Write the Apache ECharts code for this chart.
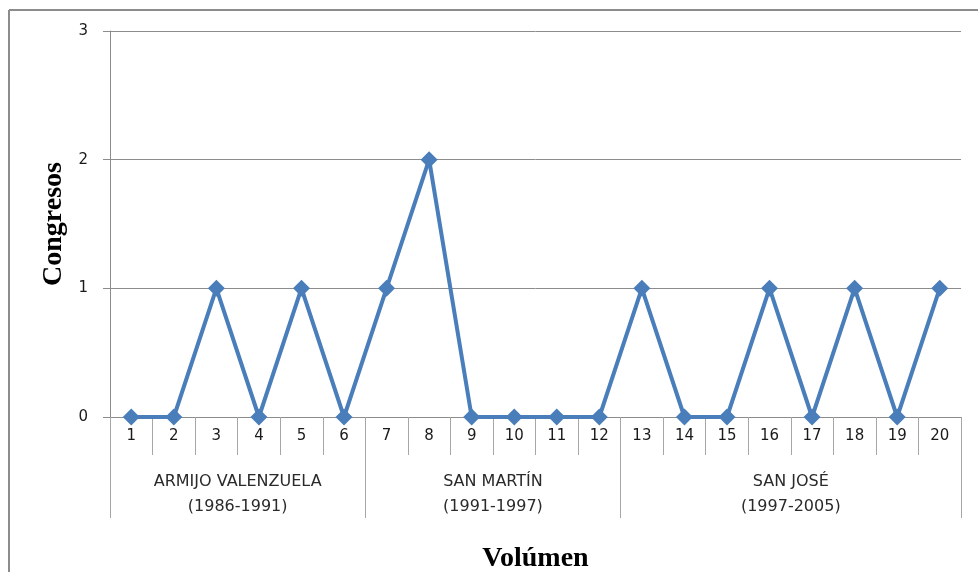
<html lang="es">
<head>
<meta charset="utf-8">
<title>Congresos por volumen</title>
<script src="https://cdn.jsdelivr.net/npm/echarts@6.0.0/dist/echarts.min.js"></script>
<style>
  html, body { margin: 0; padding: 0; background: #fff; }
  #chart { width: 978px; height: 572px; }
</style>
</head>
<body>
<div id="chart"></div>
<script>
var volumes = ['1','2','3','4','5','6','7','8','9','10','11','12','13','14','15','16','17','18','19','20'];
var congresos = [0,0,1,0,1,0,1,2,0,0,0,0,1,0,0,1,0,1,0,1];
var groupNames = ['ARMIJO VALENZUELA\n(1986-1991)', 'SAN MARTÍN\n(1991-1997)', 'SAN JOSÉ\n(1997-2005)'];
var groupBounds = [0, 6, 12, 20];
var yTicks = [0, 1, 2, 3];

var groupCenters = [];
for (var i = 0; i < groupNames.length; i++) {
  groupCenters.push((groupBounds[i] + groupBounds[i + 1]) / 2);
}

var chart = echarts.init(document.getElementById('chart'));
var lineColor = '#8c8c8c';
var labelFont = 'DejaVu Sans';
var option = {
  animation: false,
  grid: { left: 110, right: 17, top: 31, bottom: 155, outerBoundsMode: 'none', containLabel: false },
  graphic: [
    { type: 'line', shape: { x1: 9, y1: 10, x2: 978, y2: 10 }, style: { stroke: lineColor, lineWidth: 2 } },
    { type: 'line', shape: { x1: 9, y1: 10, x2: 9, y2: 572 }, style: { stroke: lineColor, lineWidth: 2 } }
  ],
  xAxis: [
    {
      type: 'category',
      data: volumes,
      boundaryGap: true,
      axisLine: { lineStyle: { color: lineColor } },
      axisTick: { show: true, interval: 0, length: 38, lineStyle: { color: '#a6a6a6' } },
      axisLabel: { interval: 0, margin: 12, fontFamily: labelFont, fontSize: 15, color: '#1a1a1a' }
    },
    {
      type: 'value',
      min: 0,
      max: 20,
      position: 'bottom',
      axisLine: { show: false },
      splitLine: { show: false },
      axisTick: { show: true, customValues: groupBounds, length: 101, lineStyle: { color: '#a6a6a6' } },
      axisLabel: {
        customValues: groupCenters,
        margin: 52,
        fontFamily: labelFont,
        fontSize: 16,
        lineHeight: 25,
        color: '#2a2a2a',
        formatter: function (v) {
          var idx = groupCenters.indexOf(v);
          return idx >= 0 ? groupNames[idx] : '';
        }
      },
      name: 'Volúmen',
      nameLocation: 'middle',
      nameGap: 128,
      nameTextStyle: { fontFamily: 'Liberation Serif', fontWeight: 'bold', fontSize: 28, color: '#000' }
    }
  ],
  yAxis: {
    type: 'value',
    min: yTicks[0],
    max: yTicks[yTicks.length - 1],
    interval: 1,
    axisLine: { show: true, lineStyle: { color: lineColor } },
    axisTick: { show: true, length: 7, lineStyle: { color: lineColor } },
    splitLine: { lineStyle: { color: lineColor } },
    axisLabel: { margin: 22, fontFamily: labelFont, fontSize: 15, color: '#1a1a1a' },
    name: 'Congresos',
    nameLocation: 'middle',
    nameGap: 38,
    nameTextStyle: { fontFamily: 'Liberation Serif', fontWeight: 'bold', fontSize: 28, color: '#000' }
  },
  series: [
    {
      type: 'line',
      xAxisIndex: 0,
      data: congresos,
      symbol: 'diamond',
      symbolSize: 17,
      lineStyle: { color: '#4a7ebb', width: 4 },
      itemStyle: { color: '#4a7ebb' }
    }
  ]
};
chart.setOption(option);
</script>
</body>
</html>
